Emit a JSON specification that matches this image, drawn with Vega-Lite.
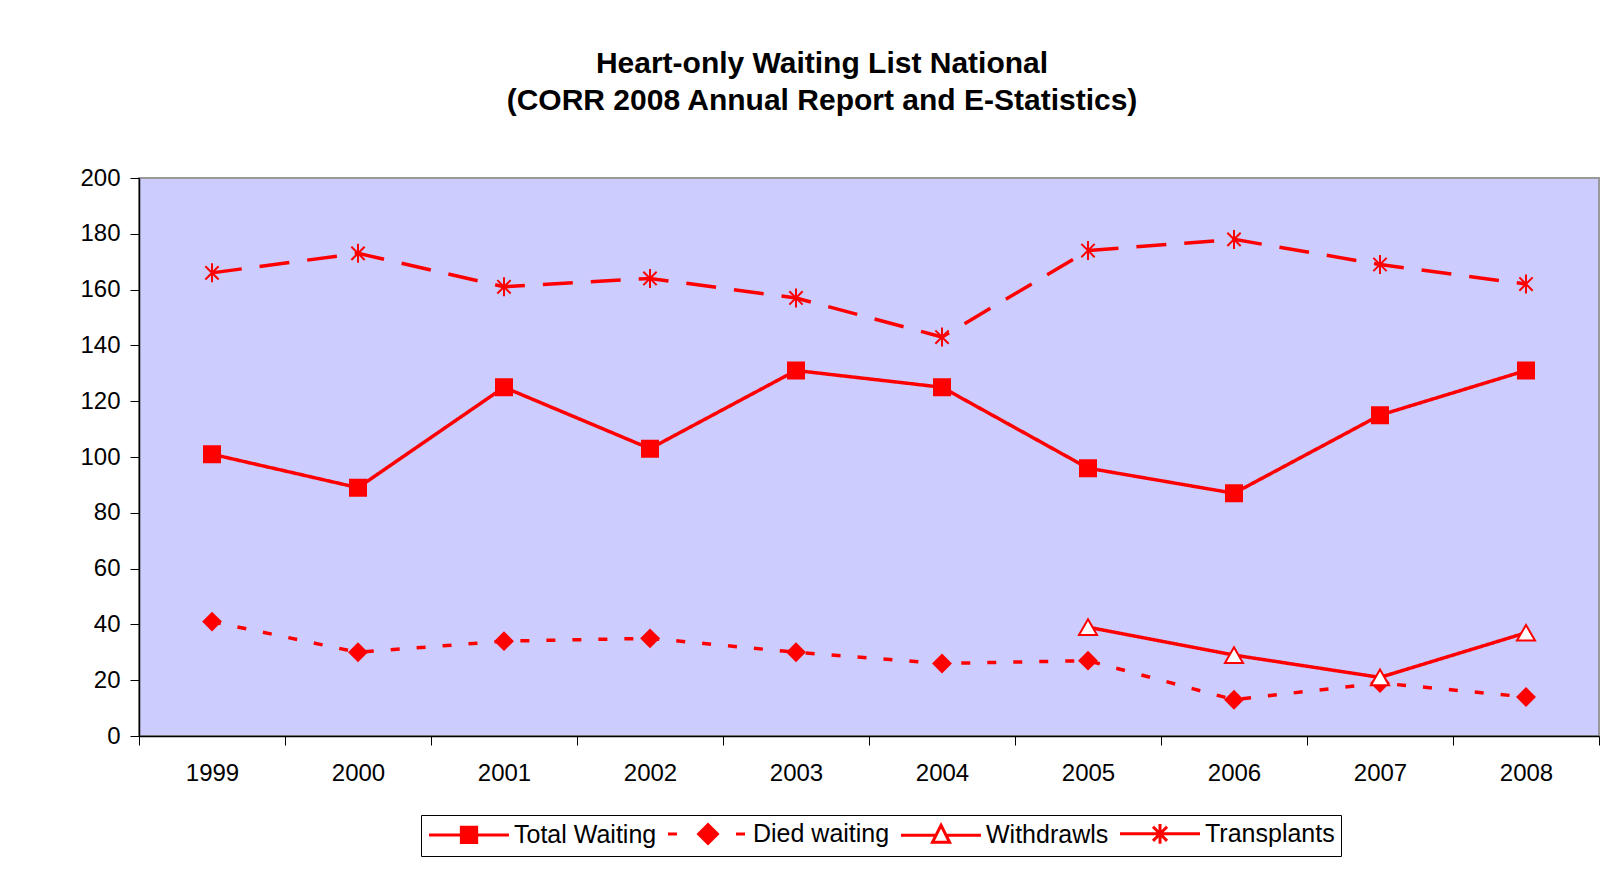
{
  "$schema": "https://vega.github.io/schema/vega-lite/v6.json",
  "autosize": "none",
  "padding": {"left": 139, "top": 178, "right": 18, "bottom": 134},
  "width": 1460,
  "height": 558,
  "background": "white",
  "title": {
    "text": ["Heart-only Waiting List National", "(CORR 2008 Annual Report and E-Statistics)"],
    "font": "Liberation Sans",
    "fontSize": 30,
    "fontWeight": "bold",
    "color": "black",
    "lineHeight": 37,
    "anchor": "middle",
    "dx": -47,
    "offset": 50
  },
  "data": {
    "values": [
      {"year": "1999", "series": "Total Waiting", "value": 101},
      {"year": "2000", "series": "Total Waiting", "value": 89},
      {"year": "2001", "series": "Total Waiting", "value": 125},
      {"year": "2002", "series": "Total Waiting", "value": 103},
      {"year": "2003", "series": "Total Waiting", "value": 131},
      {"year": "2004", "series": "Total Waiting", "value": 125},
      {"year": "2005", "series": "Total Waiting", "value": 96},
      {"year": "2006", "series": "Total Waiting", "value": 87},
      {"year": "2007", "series": "Total Waiting", "value": 115},
      {"year": "2008", "series": "Total Waiting", "value": 131},
      {"year": "1999", "series": "Died waiting", "value": 41},
      {"year": "2000", "series": "Died waiting", "value": 30},
      {"year": "2001", "series": "Died waiting", "value": 34},
      {"year": "2002", "series": "Died waiting", "value": 35},
      {"year": "2003", "series": "Died waiting", "value": 30},
      {"year": "2004", "series": "Died waiting", "value": 26},
      {"year": "2005", "series": "Died waiting", "value": 27},
      {"year": "2006", "series": "Died waiting", "value": 13},
      {"year": "2007", "series": "Died waiting", "value": 19},
      {"year": "2008", "series": "Died waiting", "value": 14},
      {"year": "2005", "series": "Withdrawls", "value": 39},
      {"year": "2006", "series": "Withdrawls", "value": 29},
      {"year": "2007", "series": "Withdrawls", "value": 21},
      {"year": "2008", "series": "Withdrawls", "value": 37},
      {"year": "1999", "series": "Transplants", "value": 166},
      {"year": "2000", "series": "Transplants", "value": 173},
      {"year": "2001", "series": "Transplants", "value": 161},
      {"year": "2002", "series": "Transplants", "value": 164},
      {"year": "2003", "series": "Transplants", "value": 157},
      {"year": "2004", "series": "Transplants", "value": 143},
      {"year": "2005", "series": "Transplants", "value": 174},
      {"year": "2006", "series": "Transplants", "value": 178},
      {"year": "2007", "series": "Transplants", "value": 169},
      {"year": "2008", "series": "Transplants", "value": 162}
    ]
  },
  "encoding": {
    "x": {
      "field": "year",
      "type": "ordinal",
      "scale": {"type": "band", "paddingInner": 0, "paddingOuter": 0, "domain": ["1999","2000","2001","2002","2003","2004","2005","2006","2007","2008"]},
      "axis": {
        "title": null,
        "labelAngle": 0,
        "tickBand": "extent",
        "tickSize": 9,
        "tickColor": "black",
        "domainColor": "black",
        "domainWidth": 1.5,
        "labelFont": "Liberation Sans",
        "labelFontSize": 24,
        "labelColor": "black",
        "labelPadding": 16
      }
    },
    "y": {
      "field": "value",
      "type": "quantitative",
      "scale": {"domain": [0, 200], "nice": false},
      "axis": {
        "title": null,
        "values": [0,20,40,60,80,100,120,140,160,180,200],
        "grid": false,
        "tickSize": 9,
        "tickColor": "black",
        "domainColor": "black",
        "domainWidth": 1.5,
        "labelFont": "Liberation Sans",
        "labelFontSize": 24,
        "labelColor": "black",
        "labelPadding": 10
      }
    }
  },
  "layer": [
    {
      "mark": {"type": "line", "color": "#FF0000", "strokeWidth": 3.5},
      "encoding": {
        "detail": {"field": "series"},
        "strokeDash": {
          "field": "series",
          "scale": {"domain": ["Total Waiting", "Died waiting", "Withdrawls", "Transplants"], "range": [[1, 0], [9, 17], [1, 0], [30, 18]]},
          "legend": null
        }
      }
    },
    {
      "mark": {"type": "point", "opacity": 1, "stroke": "#FF0000", "strokeWidth": 2},
      "encoding": {
        "shape": {
          "field": "series",
          "scale": {"domain": ["Total Waiting", "Died waiting", "Withdrawls", "Transplants"], "range": ["square", "diamond", "triangle-up", "M0,-1L0,1M-0.7,-0.7L0.7,0.7M-0.7,0.7L0.7,-0.7"]},
          "legend": null
        },
        "fill": {
          "field": "series",
          "scale": {"domain": ["Total Waiting", "Died waiting", "Withdrawls", "Transplants"], "range": ["#FF0000", "#FF0000", "#FFFFFF", "#FF0000"]},
          "legend": null
        },
        "size": {
          "field": "series",
          "scale": {"domain": ["Total Waiting", "Died waiting", "Withdrawls", "Transplants"], "range": [256, 361, 289, 400]},
          "legend": null
        }
      }
    },
    {
      "transform": [{"filter": "datum.value < 0"}],
      "mark": {"type": "point", "opacity": 1, "stroke": "#FF0000", "strokeWidth": 3, "size": 324},
      "encoding": {
        "shape": {
          "field": "series",
          "scale": {"domain": ["Total Waiting", "Died waiting", "Withdrawls", "Transplants"], "range": [
            "M-1.17,0L7.72,0M2.43,-0.85L4.13,-0.85L4.13,0.85L2.43,0.85Z",
            "M-1.17,0L-0.17,0M6.39,0L7.39,0M2.23,0L3.28,-1.05L4.33,0L3.28,1.05Z",
            "M-1.17,0L2.73,0M3.83,0L7.72,0M3.28,-1.1L4.23,0.8L2.33,0.8Z",
            "M-1.17,0L7.72,0M3.28,-1.1L3.28,1.1M2.5,-0.78L4.06,0.78M2.5,0.78L4.06,-0.78"
          ]},
          "legend": {"title": null, "orient": "none", "legendX": 282, "legendY": 637}
        },
        "fill": {
          "field": "series",
          "scale": {"domain": ["Total Waiting", "Died waiting", "Withdrawls", "Transplants"], "range": ["#FF0000", "#FF0000", "#FFFFFF", "#FF0000"]},
          "legend": {"title": null, "orient": "none", "legendX": 282, "legendY": 637}
        }
      }
    }
  ],
  "resolve": {"scale": {"shape": "independent", "fill": "independent", "size": "independent"}},
  "config": {
    "view": {"fill": "#CCCCFF", "stroke": "#999999", "strokeWidth": 2},
    "legend": {
      "direction": "horizontal",
      "strokeColor": "black",
      "padding": 6,
      "labelFont": "Liberation Sans",
      "labelFontSize": 25,
      "labelColor": "black",
      "columnPadding": 4,
      "labelOffset": 62,
      "symbolSize": 324,
      "symbolStrokeWidth": 3
    }
  }
}
